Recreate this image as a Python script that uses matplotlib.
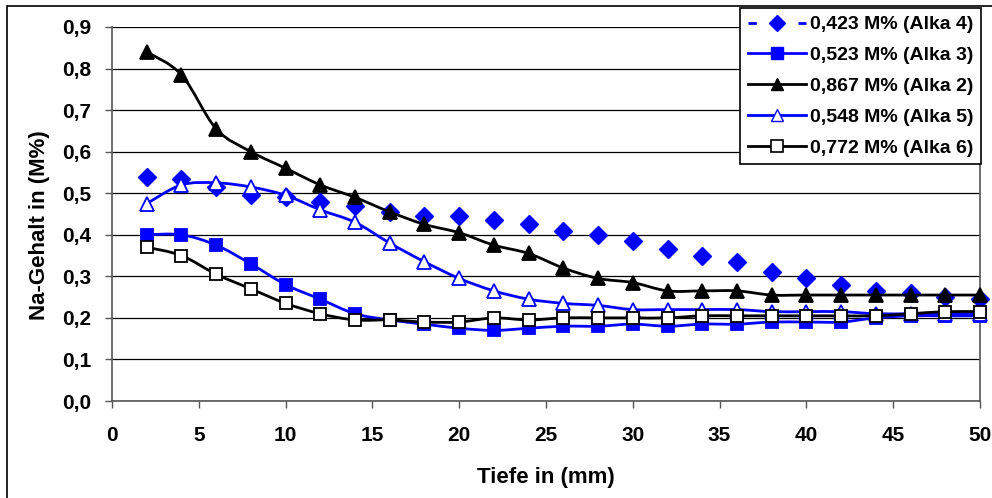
import matplotlib
matplotlib.use("Agg")
import matplotlib.pyplot as plt
import numpy as np
from matplotlib.path import Path
from matplotlib.patches import PathPatch, Rectangle
from matplotlib.lines import Line2D
from matplotlib.ticker import FuncFormatter, MultipleLocator

plt.rcParams['font.family'] = ['Liberation Sans', 'DejaVu Sans']
plt.rcParams['font.weight'] = 'bold'

# depth in mm
tiefe = [2, 4, 6, 8, 10, 12, 14, 16, 18, 20, 22, 24, 26,
         28, 30, 32, 34, 36, 38, 40, 42, 44, 46, 48, 50]

alka4 = [0.54, 0.535, 0.515, 0.495, 0.49, 0.48, 0.47, 0.455, 0.445, 0.445, 0.435, 0.425, 0.41,
         0.40, 0.385, 0.365, 0.35, 0.335, 0.31, 0.295, 0.28, 0.265, 0.26, 0.25, 0.245]
alka3 = [0.40, 0.40, 0.375, 0.33, 0.28, 0.245, 0.21, 0.195, 0.185, 0.175, 0.17, 0.175, 0.18,
         0.18, 0.185, 0.18, 0.185, 0.185, 0.19, 0.19, 0.19, 0.20, 0.205, 0.205, 0.205]
alka2 = [0.84, 0.785, 0.655, 0.60, 0.56, 0.52, 0.49, 0.455, 0.425, 0.405, 0.375, 0.355, 0.32,
         0.295, 0.285, 0.265, 0.265, 0.265, 0.255, 0.255, 0.255, 0.255, 0.255, 0.255, 0.255]
alka5 = [0.475, 0.52, 0.525, 0.515, 0.495, 0.46, 0.43, 0.38, 0.335, 0.295, 0.265, 0.245, 0.235,
         0.23, 0.22, 0.22, 0.22, 0.22, 0.215, 0.215, 0.215, 0.21, 0.21, 0.21, 0.21]
alka6 = [0.37, 0.35, 0.305, 0.27, 0.235, 0.21, 0.195, 0.195, 0.19, 0.19, 0.20, 0.195, 0.20,
         0.20, 0.20, 0.20, 0.205, 0.205, 0.205, 0.205, 0.205, 0.205, 0.21, 0.215, 0.215]

labels = ['0,423 M% (Alka 4)', '0,523 M% (Alka 3)', '0,867 M% (Alka 2)',
          '0,548 M% (Alka 5)', '0,772 M% (Alka 6)']

BLUE = '#0000ff'


def smooth_path(x, y):
    # excel-like smoothed line: catmull-rom segments as cubic beziers
    pts = np.column_stack([x, y]).astype(float)
    n = len(pts)
    verts = [pts[0]]
    codes = [Path.MOVETO]
    for i in range(n - 1):
        p0 = pts[i - 1] if i > 0 else pts[i]
        p1 = pts[i]
        p2 = pts[i + 1]
        p3 = pts[i + 2] if i + 2 < n else pts[i + 1]
        verts += [p1 + (p2 - p0) / 6, p2 - (p3 - p1) / 6, p2]
        codes += [Path.CURVE4] * 3
    return Path(verts, codes)


fig = plt.figure(figsize=(9.92, 4.98), dpi=100)
ax = fig.add_axes([112 / 992, 97 / 498, 868 / 992, 374 / 498])

# outer chart border (right and bottom edges fall outside the image)
fig.patches.append(Rectangle((7 / 992, -0.1), 1.1, 1.1 - 6 / 498, transform=fig.transFigure,
                             fill=False, edgecolor='black', linewidth=1.2))

ax.set_xlim(0, 50)
ax.set_ylim(0, 0.9)
ax.yaxis.set_major_locator(MultipleLocator(0.1))
ax.xaxis.set_major_locator(MultipleLocator(5))
ax.yaxis.set_major_formatter(FuncFormatter(lambda v, p: f"{v:.1f}".replace('.', ',')))
ax.grid(axis='y', color='black', linewidth=0.9)
ax.set_axisbelow(True)

for s in ['left', 'bottom', 'right']:
    ax.spines[s].set_color('#555555')
    ax.spines[s].set_linewidth(1.2)
ax.spines['top'].set_visible(False)

ax.tick_params(axis='both', direction='out', length=5, width=1, color='#555555')
ax.tick_params(axis='x', pad=13, labelsize=15)
ax.tick_params(axis='y', pad=10, labelsize=15)
for lab in ax.get_xticklabels() + ax.get_yticklabels():
    lab.set_fontweight('bold')

# Alka 4: markers only
ax.plot(tiefe, alka4, linestyle='none', marker='D', markersize=9, color=BLUE, clip_on=False, zorder=3)

series = [
    (alka3, BLUE, 's', BLUE, 9),
    (alka2, 'black', '^', 'black', 10),
    (alka5, BLUE, '^', 'white', 10),
    (alka6, 'black', 's', 'white', 9),
]
z = 4
for vals, col, mk, fc, ms in series:
    ax.add_patch(PathPatch(smooth_path(tiefe, vals), facecolor='none', edgecolor=col,
                           linewidth=2, zorder=z, clip_on=False))
    ax.plot(tiefe, vals, linestyle='none', marker=mk, markersize=ms, markerfacecolor=fc,
            markeredgecolor=col, markeredgewidth=1.3, clip_on=False, zorder=z + 0.5)
    z += 1

ax.set_xlabel('Tiefe in (mm)', fontsize=16, fontweight='bold', labelpad=16)
ax.set_ylabel('Na-Gehalt in (M%)', fontsize=16, fontweight='bold')
ax.yaxis.set_label_coords(-0.071, 0.47)

handles = [
    Line2D([], [], color=BLUE, linewidth=2, dashes=(3, 15), marker='D', markersize=8),
    Line2D([], [], color=BLUE, linewidth=2, marker='s', markersize=8),
    Line2D([], [], color='black', linewidth=2, marker='^', markersize=8),
    Line2D([], [], color=BLUE, linewidth=2, marker='^', markersize=8, markerfacecolor='white'),
    Line2D([], [], color='black', linewidth=2, marker='s', markersize=8, markerfacecolor='white',
           markeredgewidth=1.2),
]
leg = fig.legend(handles, labels, loc='upper right', bbox_to_anchor=(981 / 992, 1 - 8 / 498),
                 borderaxespad=0, prop={'weight': 'bold', 'size': 14},
                 handlelength=3.0, handletextpad=0.2, labelspacing=0.68, borderpad=0.4,
                 fancybox=False, framealpha=1, edgecolor='black')
leg.get_frame().set_linewidth(1.2)
leg.set_zorder(10)

fig.savefig('out.png', dpi=100)
